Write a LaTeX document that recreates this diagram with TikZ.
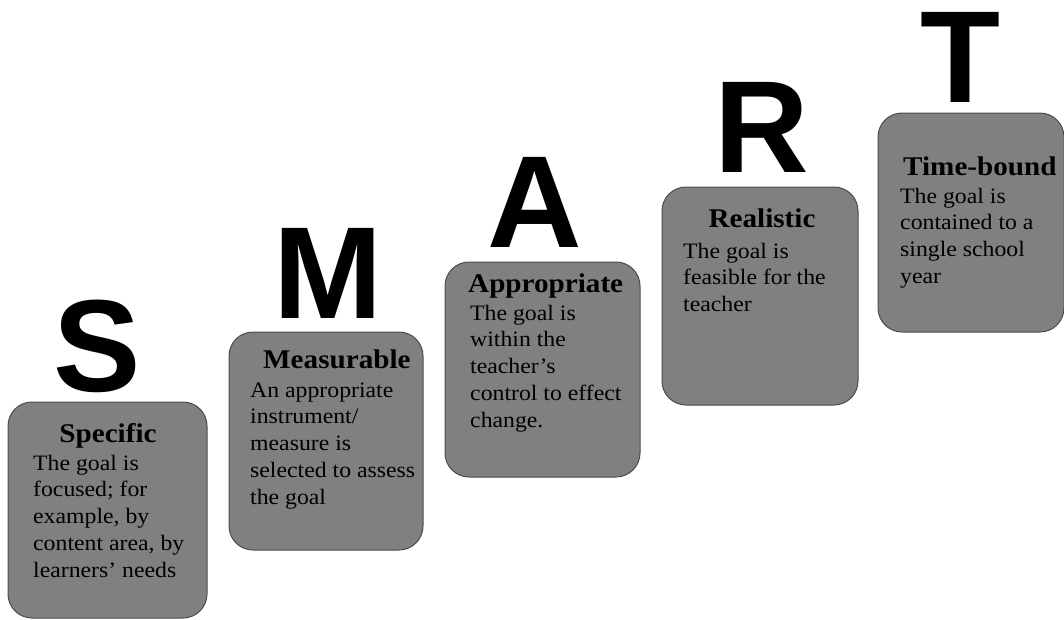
\documentclass[tikz,border=0pt]{standalone}
\usepackage{fontspec}
\setmainfont{Liberation Serif}
\newfontfamily\letterfont{Liberation Sans}
\newfontfamily\boxfont{Liberation Serif}[FakeStretch=1.08,Ligatures=TeX]
\begin{document}
\begin{tikzpicture}[x=1pt,y=-1pt,
  smartbox/.style={draw=black!70, line width=1pt, fill=black!50, rounded corners=24pt,
    anchor=north west, inner sep=0pt, outer sep=0pt},
  bigletter/.style={font=\letterfont\fontsize{131}{131}\selectfont\bfseries, anchor=base, inner sep=0pt},
  boxtitle/.style={font=\boxfont\fontsize{27}{30}\selectfont\bfseries, inner sep=0pt},
  bodyline/.style={font=\boxfont\fontsize{22}{26}\selectfont, inner sep=0pt, anchor=base west}]
\useasboundingbox (0,0) rectangle (1064,619);

% boxes
\node[smartbox, minimum width=199pt, minimum height=216pt] (sbox) at (8,402) {};
\node[smartbox, minimum width=194pt, minimum height=218pt] (mbox) at (229,332) {};
\node[smartbox, minimum width=195pt, minimum height=215pt] (abox) at (445,262) {};
\node[smartbox, minimum width=196pt, minimum height=218pt] (rbox) at (662,187) {};
\node[smartbox, minimum width=186pt, minimum height=219pt] (tbox) at (878,113) {};

% big letters
\node[bigletter] (S) at (97.5,391) {S};
\node[bigletter] (M) at (328.5,318) {M};
\node[bigletter] (A) at (535,247) {A};
\node[bigletter] (R) at (762,172) {R};
\node[bigletter] (T) at (960.5,102) {T};

% titles
\node[boxtitle, anchor=base] (stitle) at (108,442) {Specific};
\node[boxtitle, anchor=base west] (mtitle) at (263,368) {Measurable};
\node[boxtitle, anchor=base west] (atitle) at (468,292) {Appropriate};
\node[boxtitle, anchor=base] (rtitle) at (762,227) {Realistic};
\node[boxtitle, anchor=base west] (ttitle) at (903,175) {Time-bound};

% body texts
\foreach \t [count=\i] in {The goal is, focused; for, {example, by}, {content area, by}, learners’ needs}
  \node[bodyline] (s\i) at (33,{470+26.8*(\i-1)}) {\t};
\foreach \t [count=\i] in {An appropriate, instrument/, measure is, selected to assess, the goal}
  \node[bodyline] (m\i) at (250,{397+26.8*(\i-1)}) {\t};
\foreach \t [count=\i] in {The goal is, within the, teacher’s, control to effect, change.}
  \node[bodyline] (a\i) at (470,{320+26.8*(\i-1)}) {\t};
\foreach \t [count=\i] in {The goal is, feasible for the, teacher}
  \node[bodyline] (r\i) at (683,{258+26.8*(\i-1)}) {\t};
\foreach \t [count=\i] in {The goal is, contained to a, single school, year}
  \node[bodyline] (t\i) at (900,{203+26.8*(\i-1)}) {\t};
\end{tikzpicture}
\end{document}
